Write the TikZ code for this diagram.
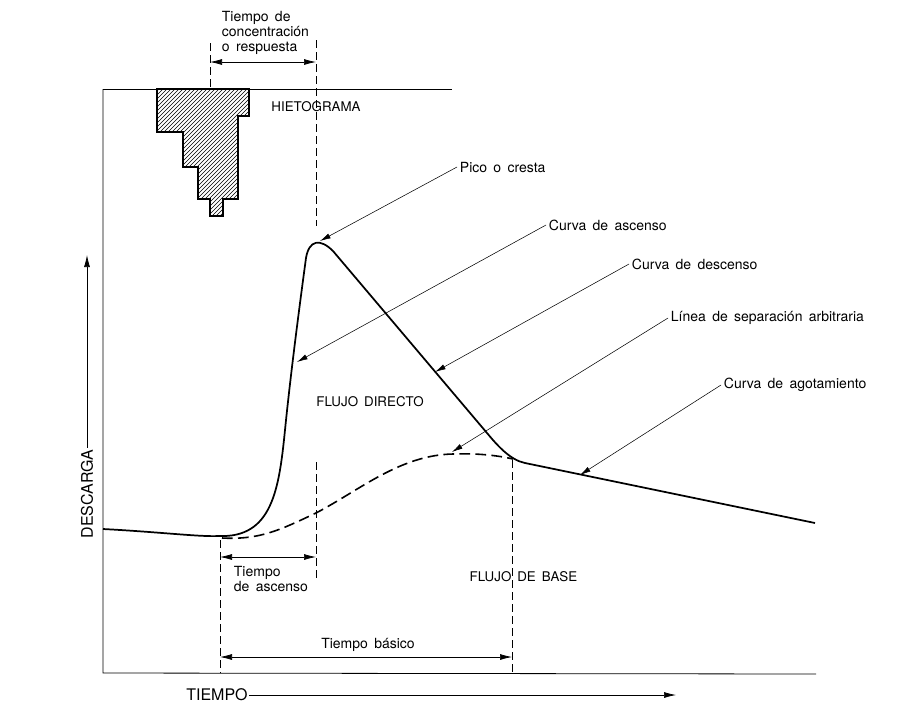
\documentclass[tikz,border=0pt]{standalone}
\usepackage{fontspec}
\setmainfont{TeX Gyre Heros}
\usetikzlibrary{arrows.meta}
\newcommand\widesp{\spaceskip=0.45em\relax}
\tikzset{
  frameline/.style={line width=0.6pt},
  hydro/.style={line width=1.3pt, line join=round},
  guide/.style={line width=0.5pt, dash pattern=on 6pt off 3pt},
  sepline/.style={line width=1.2pt, dash pattern=on 8pt off 4pt},
  leader/.style={line width=0.4pt, -{Latex[length=8pt,width=4pt]}},
  spanarrow/.style={line width=0.5pt, {Latex[length=9pt,width=4.5pt]}-{Latex[length=9pt,width=4.5pt]}},
  axisarrow/.style={line width=0.5pt, -{Latex[length=9pt,width=4.5pt]}},
  lbl/.style={inner sep=2pt, font=\fontsize{10.5}{11}\selectfont\widesp, align=left},
  capslbl/.style={inner sep=1pt, font=\fontsize{10}{12}\selectfont\widesp},
  axislbl/.style={inner sep=1pt, font=\fontsize{12}{14}\selectfont}
}
\begin{document}
\begin{tikzpicture}[x=0.75pt,y=-0.75pt]
    \useasboundingbox (0,0) rectangle (924,726);
    \draw[frameline] (103,89) -- (452,89);
    \draw[frameline] (103,89) -- (103,673) -- (816,674);
    \begin{scope}
        \clip (157,89) -- (157,132) -- (183,132) -- (183,167) -- (198,167) -- (198,199) -- (210,199) -- (210,216) -- (223,216) -- (223,199) -- (238,199) -- (238,116) -- (249,116) -- (249,89) -- cycle;
        \foreach \i in {10,14,...,214}
            \draw[line width=0.35pt] (\i,230) -- ++(170,-170);
    \end{scope}
    \draw[line width=1.2pt] (157,89) -- (157,132) -- (183,132) -- (183,167) -- (198,167) -- (198,199) -- (210,199) -- (210,216) -- (223,216) -- (223,199) -- (238,199) -- (238,116) -- (249,116) -- (249,89) -- cycle;
    \draw[guide] (210,43) -- (210,89);
    \draw[guide] (316,40) -- (316,226);
    \draw[guide] (316,462) -- (316,580);
    \draw[guide] (220,540) -- (220,673);
    \draw[guide] (512,460) -- (512,673);
    \draw[hydro] (103,529) .. controls (160,532) and (200,537) .. (219,536)
        .. controls (272,538) and (279,490) .. (285,430)
        .. controls (291,370) and (301,295) .. (306,258)
        .. controls (309,240) and (320,238) .. (333,251)
        -- (487,433)
        .. controls (497,445) and (510,460) .. (525,463)
        -- (815,523);
    \draw[sepline] (222,538) .. controls (260,540) and (280,530) .. (316,513)
        .. controls (360,490) and (400,455) .. (453,454)
        .. controls (480,453) and (500,456) .. (513,459);
    \coordinate (peak) at (320,241);
    \coordinate (rise) at (297,362);
    \coordinate (fall) at (435,372);
    \coordinate (sep) at (452,452);
    \coordinate (tail) at (580,475);
    \node[lbl, anchor=west] (pico) at (457,167) {Pico o cresta};
    \node[lbl, anchor=west] (ascenso) at (546,225) {Curva de ascenso};
    \node[lbl, anchor=west] (descenso) at (629,264) {Curva de descenso};
    \node[lbl, anchor=west] (linea) at (668,318) {Línea de separación arbitraria};
    \node[lbl, anchor=west] (agota) at (721,385) {Curva de agotamiento};
    \draw[leader] (pico.west) -- (peak);
    \draw[leader] (ascenso.west) -- (rise);
    \draw[leader] (descenso.west) -- (fall);
    \draw[leader] (linea.west) -- (sep);
    \draw[leader] (agota.west) -- (tail);
    \node[lbl, anchor=west] (conc) at (219,33) {Tiempo de\\concentración\\o respuesta};
    \coordinate (c1) at (210,62);
    \coordinate (c2) at (316,62);
    \draw[spanarrow] (c1) -- (c2);
    \node[lbl, anchor=west] (tasc) at (231,579) {Tiempo\\de ascenso};
    \coordinate (a1) at (220,557);
    \coordinate (a2) at (316,557);
    \draw[spanarrow] (a1) -- (a2);
    \node[lbl] (tbas) at (368,645) {Tiempo básico};
    \coordinate (b1) at (220,657);
    \coordinate (b2) at (512,657);
    \draw[spanarrow] (b1) -- (b2);
    \node[capslbl] (hieto) at (316,107) {HIETOGRAMA};
    \node[capslbl] (directo) at (370,402) {FLUJO DIRECTO};
    \node[capslbl, anchor=west] (base) at (468,577) {FLUJO DE BASE};
    \node[axislbl, rotate=90] (desc) at (87,494) {DESCARGA};
    \coordinate (qtop) at (89,255);
    \draw[axisarrow] (desc.east) -- (desc.east |- qtop);
    \node[axislbl] (tiempo) at (217,695) {TIEMPO};
    \coordinate (tend) at (676,696);
    \draw[axisarrow] (tiempo.east) -- (tiempo.east -| tend);
\end{tikzpicture}
\end{document}
